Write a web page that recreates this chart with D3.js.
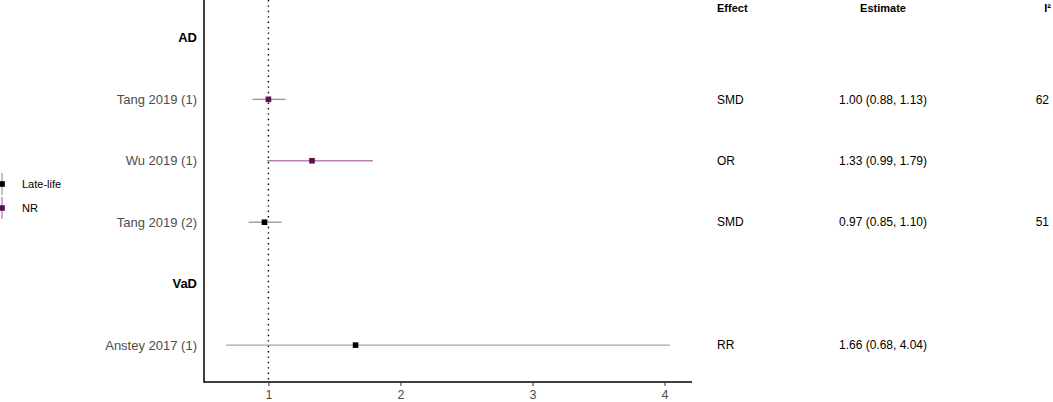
<!DOCTYPE html>
<html><head><meta charset="utf-8">
<script src="https://cdn.jsdelivr.net/npm/d3@7"></script>
<style>body{margin:0;background:#fff;} text{font-family:"Liberation Sans",Arial,sans-serif;}</style>
</head><body><svg id="c" width="1053" height="402"></svg>
<script>
const rows = ["AD","Tang 2019 (1)","Wu 2019 (1)","Tang 2019 (2)","VaD","Anstey 2017 (1)"];
const headerRows = ["AD","VaD"];
const studies = ["Tang 2019 (1)","Wu 2019 (1)","Tang 2019 (2)","Anstey 2017 (1)"];
const estimates = [1.00, 1.33, 0.97, 1.66];
const lower = [0.88, 0.99, 0.85, 0.68];
const upper = [1.13, 1.79, 1.10, 4.04];
const groups = ["NR","NR","Late-life","Late-life"];
const effects = ["SMD","OR","SMD","RR"];
const estLabels = ["1.00 (0.88, 1.13)","1.33 (0.99, 1.79)","0.97 (0.85, 1.10)","1.66 (0.68, 4.04)"];
const i2 = ["62","","51",""];
const legendItems = ["Late-life","NR"];
const xTicks = [1,2,3,4];

const lineColor = {"NR":"#b47fb1","Late-life":"#a3a3a3"};
const pointColor = {"NR":"#5b1051","Late-life":"#000000"};

(function(){
const svg = d3.select("#c");
const pL = 204, pR = 692, pT = 1, pB = 382;
const lo = d3.min(lower), hi = d3.max(upper), pad = (hi-lo)*0.05;
const x = d3.scaleLinear().domain([lo-pad, hi+pad]).range([pL, pR]);
const y = d3.scalePoint().domain(rows).range([pT, pB]).padding(0.6);

// reference line
svg.append("line").attr("x1",x(1)).attr("x2",x(1)).attr("y1",0).attr("y2",pB)
  .attr("stroke","#000").attr("stroke-width",1.4).attr("stroke-dasharray","1.4,4");

// axes
const xa = svg.append("g").attr("transform",`translate(0,${pB})`)
  .call(d3.axisBottom(x).tickValues(xTicks).tickSize(4).tickPadding(4).tickFormat(d3.format("d")));
xa.select(".domain").attr("stroke","#000").attr("stroke-width",1.5).attr("d",`M${pL},0H${pR}`);
xa.selectAll(".tick line").attr("stroke","#333");
xa.selectAll(".tick text").attr("font-size",12.5).attr("fill","#4d4d4d").attr("font-family","Liberation Sans, Arial, sans-serif");
svg.append("line").attr("x1",pL).attr("x2",pL).attr("y1",0).attr("y2",pB+0.75)
  .attr("stroke","#000").attr("stroke-width",1.5);

// row labels
svg.selectAll("text.rl").data(rows).enter().append("text")
  .attr("x",197).attr("y",d=>y(d)).attr("dy","0.35em").attr("text-anchor","end")
  .attr("font-size",13).attr("fill", d=>headerRows.includes(d)?"#000":"#4d4d4d")
  .attr("font-weight",d=>headerRows.includes(d)?"bold":"normal").text(d=>d);

// CIs and points
studies.forEach((s,i)=>{
  svg.append("line").attr("x1",x(lower[i])).attr("x2",x(upper[i])).attr("y1",y(s)).attr("y2",y(s))
    .attr("stroke",lineColor[groups[i]]).attr("stroke-width",1.3);
  svg.append("rect").attr("x",x(estimates[i])-2.8).attr("y",y(s)-2.8).attr("width",5.6).attr("height",5.6)
    .attr("fill",pointColor[groups[i]]);
});

// table columns
const hdr = [["Effect",717,"start"],["Estimate",883,"middle"],["I²",1051,"end"]];
hdr.forEach(h=>svg.append("text").attr("x",h[1]).attr("y",8).attr("dy","0.35em").attr("text-anchor",h[2])
  .attr("font-size",11).attr("font-weight","bold").attr("fill","#000").text(h[0]));
studies.forEach((s,i)=>{
  svg.append("text").attr("x",717).attr("y",y(s)).attr("dy","0.35em").attr("font-size",12).attr("fill","#000").text(effects[i]);
  svg.append("text").attr("x",883).attr("y",y(s)).attr("dy","0.35em").attr("text-anchor","middle").attr("font-size",12).attr("fill","#000").text(estLabels[i]);
  if(i2[i]) svg.append("text").attr("x",1049).attr("y",y(s)).attr("dy","0.35em").attr("text-anchor","end").attr("font-size",12).attr("fill","#000").text(i2[i]);
});

// legend
const legY = [184, 208];
legendItems.forEach((g,i)=>{
  svg.append("line").attr("x1",2).attr("x2",2).attr("y1",legY[i]-11).attr("y2",legY[i]+11)
    .attr("stroke",lineColor[g]).attr("stroke-width",1.3);
  svg.append("rect").attr("x",2-2.8).attr("y",legY[i]-2.8).attr("width",5.6).attr("height",5.6).attr("fill",pointColor[g]);
  svg.append("text").attr("x",22).attr("y",legY[i]).attr("dy","0.35em").attr("font-size",11).attr("fill","#000").text(g);
});
})();
</script></body></html>
